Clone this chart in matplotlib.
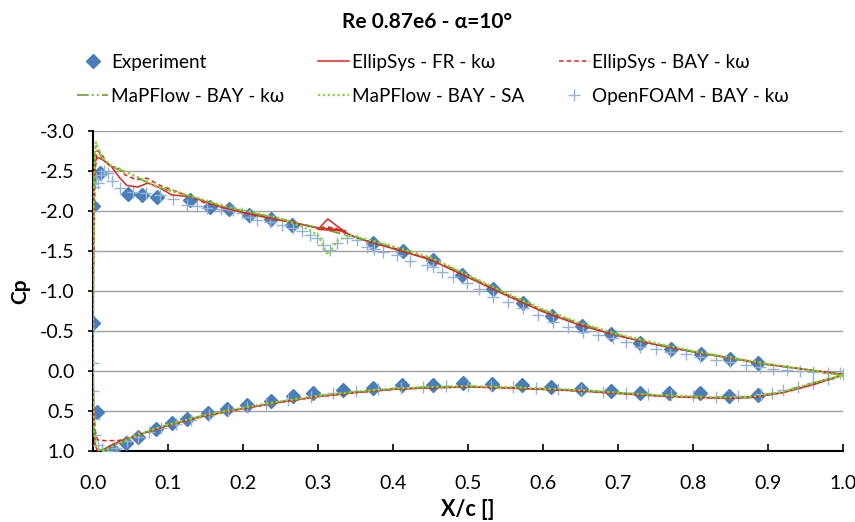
import numpy as np
import matplotlib.pyplot as plt

plt.rcParams['font.family'] = ['Lato', 'DejaVu Sans']

# Experiment (diamonds)
exp_x = [0.0, 0.0, 0.009, 0.047, 0.065, 0.085, 0.129, 0.156, 0.181, 0.208, 0.237, 0.265,
         0.373, 0.413, 0.453, 0.492, 0.533, 0.573, 0.612, 0.652, 0.69, 0.729, 0.771, 0.811,
         0.849, 0.887,
         0.005, 0.027, 0.044, 0.06, 0.084, 0.105, 0.125, 0.153, 0.179, 0.205, 0.237, 0.267,
         0.293, 0.333, 0.373, 0.412, 0.453, 0.493, 0.532, 0.572, 0.611, 0.65, 0.69, 0.729,
         0.768, 0.809, 0.848, 0.887]
exp_cp = [-0.6, -2.06, -2.47, -2.21, -2.2, -2.18, -2.14, -2.05, -2.02, -1.95, -1.9, -1.82,
          -1.6, -1.5, -1.39, -1.2, -1.02, -0.85, -0.69, -0.56, -0.46, -0.35, -0.28, -0.21,
          -0.15, -0.1,
          0.51, 0.99, 0.9, 0.82, 0.73, 0.65, 0.6, 0.53, 0.47, 0.43, 0.37, 0.31,
          0.28, 0.24, 0.21, 0.18, 0.17, 0.15, 0.16, 0.18, 0.2, 0.22, 0.25, 0.27,
          0.28, 0.28, 0.31, 0.3]

# EllipSys - FR - kw (solid red)
fr_x = [1.0, 0.95, 0.9, 0.85, 0.8, 0.75, 0.7, 0.65, 0.6, 0.55, 0.5, 0.45, 0.4, 0.37, 0.345,
        0.337, 0.313, 0.300, 0.337, 0.303, 0.333, 0.297, 0.27, 0.24, 0.2, 0.17, 0.13, 0.105,
        0.089, 0.073, 0.06, 0.045, 0.035, 0.025, 0.013, 0.006, 0.003, 0.0015, 0.0005, 0.0,
        0.0005, 0.0015, 0.003, 0.006, 0.012, 0.02, 0.03, 0.045, 0.06, 0.08, 0.1, 0.125, 0.15,
        0.2, 0.25, 0.3, 0.35, 0.4, 0.45, 0.5, 0.55, 0.6, 0.65, 0.7, 0.75, 0.8, 0.85, 0.88,
        0.92, 0.96, 1.0]
fr_cp = [0.04, -0.02, -0.08, -0.16, -0.24, -0.33, -0.44, -0.57, -0.74, -0.95, -1.17, -1.39,
         -1.53, -1.61, -1.69, -1.73, -1.90, -1.77, -1.75, -1.78, -1.76, -1.79, -1.85, -1.90,
         -1.98, -2.05, -2.18, -2.2, -2.29, -2.35, -2.3, -2.32, -2.42, -2.55, -2.64, -2.67,
         -2.62, -2.3, -1.4, -0.3, 0.4, 0.75, 0.93, 1.0, 0.99, 0.95, 0.9, 0.85, 0.8, 0.74,
         0.68, 0.62, 0.56, 0.47, 0.39, 0.32, 0.27, 0.23, 0.21, 0.2, 0.21, 0.23, 0.25, 0.28,
         0.31, 0.33, 0.34, 0.33, 0.27, 0.17, 0.05]

# EllipSys - BAY - kw (dashed red)
bay_x = [1.0, 0.95, 0.9, 0.85, 0.8, 0.75, 0.7, 0.65, 0.6, 0.55, 0.5, 0.45, 0.4, 0.36, 0.337,
         0.325, 0.313, 0.30, 0.28, 0.25, 0.2, 0.15, 0.107, 0.089, 0.072, 0.058, 0.043, 0.033,
         0.023, 0.009, 0.005, 0.003, 0.0015, 0.0005, 0.0, 0.001, 0.003, 0.005, 0.006, 0.015,
         0.033, 0.045, 0.06, 0.08, 0.1, 0.125, 0.15, 0.2, 0.25, 0.3, 0.35, 0.4, 0.45, 0.5,
         0.55, 0.6, 0.65, 0.7, 0.75, 0.8, 0.85, 0.88, 0.92, 0.96, 1.0]
bay_cp = [0.05, -0.02, -0.08, -0.16, -0.24, -0.33, -0.45, -0.58, -0.75, -0.96, -1.18, -1.4,
          -1.54, -1.64, -1.72, -1.78, -1.80, -1.79, -1.83, -1.89, -1.99, -2.1, -2.26, -2.32,
          -2.41, -2.39, -2.45, -2.55, -2.55, -2.74, -2.75, -2.5, -1.9, -1.0, 0.0, 0.5, 0.75,
          0.82, 0.86, 0.87, 0.87, 0.85, 0.8, 0.74, 0.68, 0.62, 0.56, 0.47, 0.39, 0.32, 0.27,
          0.23, 0.21, 0.2, 0.21, 0.23, 0.25, 0.28, 0.31, 0.33, 0.34, 0.33, 0.27, 0.17, 0.05]

# MaPFlow - BAY - kw (dash-dot green)
mkw_x = [1.0, 0.95, 0.9, 0.85, 0.8, 0.75, 0.7, 0.65, 0.6, 0.55, 0.5, 0.45, 0.4, 0.35, 0.3,
         0.25, 0.18, 0.13, 0.085, 0.045, 0.025, 0.012, 0.006, 0.004, 0.0025, 0.0012, 0.0004,
         0.0, 0.0005, 0.0015, 0.004, 0.01, 0.02, 0.03, 0.045, 0.06, 0.08, 0.1, 0.125, 0.15,
         0.2, 0.25, 0.3, 0.35, 0.4, 0.45, 0.5, 0.55, 0.6, 0.65, 0.7, 0.75, 0.8, 0.85, 0.88,
         0.92, 0.96, 1.0]
mkw_cp = [0.05, -0.02, -0.08, -0.16, -0.24, -0.34, -0.45, -0.59, -0.76, -0.97, -1.19, -1.41,
          -1.55, -1.67, -1.79, -1.9, -2.04, -2.18, -2.3, -2.48, -2.55, -2.65, -2.78, -2.84,
          -2.7, -2.1, -1.1, -0.2, 0.4, 0.75, 0.95, 1.0, 0.97, 0.92, 0.86, 0.8, 0.73, 0.67,
          0.61, 0.55, 0.46, 0.38, 0.31, 0.26, 0.22, 0.2, 0.19, 0.2, 0.22, 0.24, 0.27, 0.3,
          0.32, 0.33, 0.32, 0.26, 0.15, 0.05]

# MaPFlow - BAY - SA (dotted green)
msa_x = [1.0, 0.95, 0.9, 0.85, 0.8, 0.75, 0.7, 0.65, 0.6, 0.55, 0.5, 0.45, 0.4, 0.36, 0.34,
         0.325, 0.313, 0.30, 0.28, 0.25, 0.18, 0.13, 0.085, 0.045, 0.025, 0.012, 0.006, 0.004,
         0.0025, 0.0012, 0.0004, 0.0, 0.0005, 0.0015, 0.004, 0.01, 0.02, 0.03, 0.045, 0.06,
         0.08, 0.1, 0.125, 0.15, 0.2, 0.25, 0.3, 0.35, 0.4, 0.45, 0.5, 0.55, 0.6, 0.65, 0.7,
         0.75, 0.8, 0.85, 0.88, 0.92, 0.96, 1.0]
msa_cp = [0.06, -0.02, -0.09, -0.17, -0.25, -0.35, -0.46, -0.6, -0.77, -0.98, -1.2, -1.42,
          -1.56, -1.66, -1.7, -1.62, -1.45, -1.7, -1.8, -1.91, -2.05, -2.19, -2.31, -2.49,
          -2.56, -2.68, -2.8, -2.86, -2.72, -2.15, -1.2, -0.25, 0.38, 0.74, 0.94, 1.0, 0.97,
          0.92, 0.86, 0.8, 0.73, 0.67, 0.61, 0.55, 0.46, 0.38, 0.31, 0.26, 0.22, 0.2, 0.19,
          0.2, 0.22, 0.24, 0.27, 0.3, 0.32, 0.33, 0.32, 0.26, 0.15, 0.05]

# OpenFOAM - BAY - kw (+ markers)
of_x = [0.996, 0.98, 0.96, 0.943, 0.925, 0.907, 0.889, 0.87, 0.849, 0.83, 0.809, 0.79, 0.769,
        0.75, 0.729, 0.71, 0.693, 0.673, 0.653, 0.633, 0.613, 0.593, 0.573, 0.553, 0.533,
        0.515, 0.498, 0.48, 0.465, 0.453, 0.445, 0.423, 0.405, 0.387, 0.375, 0.365, 0.352,
        0.338, 0.325, 0.316, 0.307, 0.298, 0.289, 0.278, 0.267, 0.252, 0.236, 0.219, 0.209,
        0.198, 0.187, 0.17, 0.152, 0.138, 0.125, 0.107, 0.089, 0.07, 0.053, 0.036, 0.025,
        0.02, 0.014, 0.01, 0.007, 0.004, 0.002, 0.001, 0.0, 0.0, 0.0, 0.0,
        0.0, 0.001, 0.002, 0.006, 0.012, 0.02, 0.03, 0.045, 0.06, 0.075, 0.09, 0.11, 0.13,
        0.155, 0.18, 0.205, 0.23, 0.26, 0.29, 0.32, 0.35, 0.38, 0.41, 0.44, 0.47, 0.5, 0.53,
        0.56, 0.59, 0.62, 0.65, 0.68, 0.71, 0.74, 0.77, 0.8, 0.83, 0.86, 0.89, 0.905, 0.92,
        0.94, 0.96, 0.98, 1.0]
of_cp = [0.03, 0.02, 0.01, 0.0, -0.01, -0.03, -0.05, -0.08, -0.11, -0.14, -0.18, -0.21,
         -0.24, -0.27, -0.3, -0.36, -0.41, -0.45, -0.49, -0.55, -0.61, -0.7, -0.79, -0.86,
         -0.93, -1.02, -1.1, -1.18, -1.24, -1.3, -1.33, -1.37, -1.45, -1.49, -1.52, -1.55,
         -1.64, -1.66, -1.6, -1.51, -1.57, -1.66, -1.7, -1.75, -1.79, -1.82, -1.86, -1.89,
         -1.93, -1.97, -2.01, -2.03, -2.04, -2.06, -2.08, -2.15, -2.2, -2.22, -2.24, -2.29,
         -2.38, -2.48, -2.5, -2.45, -2.35, -2.4, -2.45, -2.3, -2.0, -1.5, -0.5, -0.1,
         0.25, 0.6, 0.8, 0.92, 0.98, 1.0, 0.96, 0.88, 0.82, 0.76, 0.71, 0.66, 0.61, 0.55,
         0.5, 0.45, 0.41, 0.36, 0.32, 0.28, 0.25, 0.23, 0.21, 0.2, 0.19, 0.19, 0.19, 0.2,
         0.21, 0.23, 0.24, 0.26, 0.28, 0.29, 0.3, 0.31, 0.32, 0.31, 0.29, 0.27, 0.24, 0.2,
         0.15, 0.1, 0.04]

x_ticks = [0.0, 0.1, 0.2, 0.3, 0.4, 0.5, 0.6, 0.7, 0.8, 0.9, 1.0]
y_ticks = [-3.0, -2.5, -2.0, -1.5, -1.0, -0.5, 0.0, 0.5, 1.0]

red = '#E3231F'
green_dk = '#6E9A2E'
green_lt = '#8CD33C'
blue = '#4A7EBB'
lblue = '#95B3D7'

fig = plt.figure(figsize=(8.55, 5.22), dpi=100)
ax = fig.add_axes([93 / 855, 1 - 451 / 522, 750 / 855, 320 / 522])

h_exp, = ax.plot(exp_x, exp_cp, 'D', color=blue, ms=7.2, ls='none', zorder=3)
h_of, = ax.plot(of_x, of_cp, '+', color=lblue, ms=9, mew=1.0, ls='none', zorder=4)
h_fr, = ax.plot(fr_x, fr_cp, '-', color=red, lw=1.1, zorder=5)
h_bay, = ax.plot(bay_x, bay_cp, color=red, lw=1.1, dashes=(3, 2), zorder=5)
h_mkw, = ax.plot(mkw_x, mkw_cp, color=green_dk, lw=1.2, dashes=(7, 2, 1, 2, 1, 2), zorder=5)
h_msa, = ax.plot(msa_x, msa_cp, color=green_lt, lw=1.6, dashes=(1, 1.2), zorder=5)

ax.set_xlim(0, 1.0)
ax.set_ylim(1.0, -3.0)
ax.set_xticks(x_ticks)
ax.set_yticks(y_ticks)
ax.set_xticklabels([f'{v:.1f}' for v in x_ticks], fontsize=14)
ax.set_yticklabels([f'{v:.1f}' for v in y_ticks], fontsize=14)
ax.tick_params(axis='x', direction='in', length=5, width=1.2, pad=17)
ax.tick_params(axis='y', direction='out', length=3.5, width=1.2, pad=10)
ax.yaxis.grid(True, color='#A0A0A0', lw=1)
ax.set_axisbelow(True)
for s in ['top', 'right']:
    ax.spines[s].set_visible(False)
for s in ['left', 'bottom']:
    ax.spines[s].set_linewidth(1.5)

ax.set_xlabel('X/c []', fontsize=15.5, fontweight='bold', labelpad=5)
ax.set_ylabel('Cp', fontsize=15, fontweight='bold', labelpad=7)

fig.text(0.5, 1 - 22 / 522, 'Re 0.87e6 - α=10°', ha='center', va='center',
         fontsize=15, fontweight='bold')

# matplotlib fills legend columns first, so reorder for row-wise layout
handles = [h_exp, h_mkw, h_fr, h_msa, h_bay, h_of]
labels = ['Experiment', 'MaPFlow - BAY - kω', 'EllipSys - FR - kω',
          'MaPFlow - BAY - SA', 'EllipSys - BAY - kω', 'OpenFOAM - BAY - kω']
fig.legend(handles, labels, ncol=3, loc='upper left', bbox_to_anchor=(77 / 855, 1 - 54 / 522),
           frameon=False, fontsize=13.6, handlelength=1.65, handletextpad=0.15,
           columnspacing=1.8, labelspacing=0.9, borderpad=0, borderaxespad=0)

fig.savefig('out.png', dpi=100)
